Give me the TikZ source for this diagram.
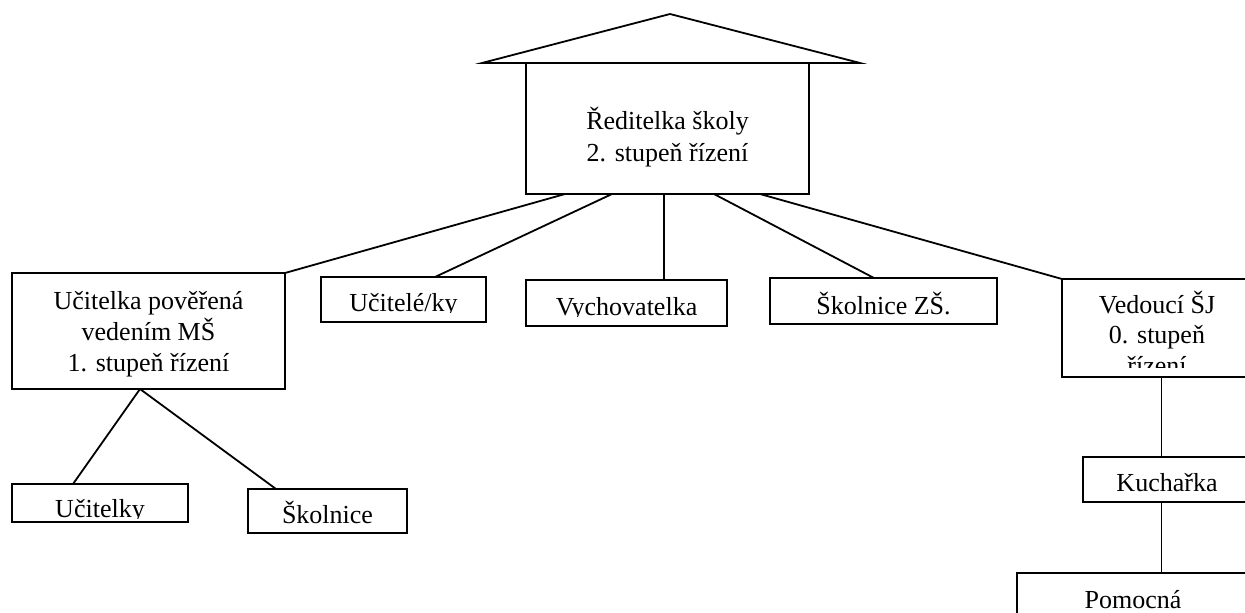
\documentclass[tikz,border=0pt]{standalone}
\usepackage{fontspec}
\setmainfont{Liberation Serif}
\usetikzlibrary{calc}
\tikzset{
  box/.style={draw=black, line width=1.8pt, inner sep=0pt, outer sep=0pt, fill=white},
  txt/.style={anchor=base, inner sep=0pt, outer sep=0pt, font=\fontsize{26}{31}\selectfont},
  link/.style={draw=black, line width=1.8pt}
}
\begin{document}
\begin{tikzpicture}[x=1pt, y=-1pt]
\useasboundingbox (0,0) rectangle (1245,613);
% roof
\draw[line width=1.8pt, line join=miter] (482,63) -- (670,14) -- (860,63) -- cycle;
% boxes
\node[box, minimum width=283pt, minimum height=131pt] (main) at (667.5,128.5) {};
\node[box, minimum width=273pt, minimum height=116pt] (mgr) at (148.5,331) {};
\node[box, minimum width=165pt, minimum height=45pt] (ucz) at (403.5,299.5) {};
\node[box, minimum width=201pt, minimum height=46pt] (vych) at (626.5,303) {};
\node[box, minimum width=227pt, minimum height=46pt] (skzs) at (883.5,301) {};
\node[box, minimum width=190pt, minimum height=98pt] (ved) at (1157,328) {};
\node[box, minimum width=176pt, minimum height=38pt] (ucky) at (100,503) {};
\node[box, minimum width=159pt, minimum height=44pt] (skol) at (327.5,511) {};
\node[box, minimum width=168pt, minimum height=45pt] (kuch) at (1167,479.5) {};
\node[box, minimum width=232pt, minimum height=60pt] (pom) at (1133,603) {};
% texts
\node[txt] (maint1) at (667.5,129) {Ředitelka školy};
\node[txt] (maint2) at (667.5,161) {2. stupeň řízení};
\node[txt] (mgrt1) at (148.5,309) {Učitelka pověřená};
\node[txt] (mgrt2) at (148.5,340) {vedením MŠ};
\node[txt] (mgrt3) at (148.5,371) {1. stupeň řízení};
\begin{scope}
  \clip (321,277) rectangle (486,312);
  \node[txt] (uczt) at (403.5,311) {Učitelé/ky};
\end{scope}
\begin{scope}
  \clip (526,280) rectangle (727,316);
  \node[txt] (vycht) at (626.5,315) {Vychovatelka};
\end{scope}
\node[txt] (skzst) at (883.5,314) {Školnice ZŠ.};
\begin{scope}
  \clip (1062,279) rectangle (1245,367);
  \node[txt] (vedt1) at (1157,313) {Vedoucí ŠJ};
  \node[txt] (vedt2) at (1157,343) {0. stupeň};
  \node[txt] (vedt3) at (1157,374) {řízení};
\end{scope}
\begin{scope}
  \clip (12,484) rectangle (188,518);
  \node[txt] (uckyt) at (100,517) {Učitelky};
\end{scope}
\node[txt] (skolt) at (327.5,523) {Školnice};
\node[txt] (kucht) at (1167,491) {Kuchařka};
\node[txt] (pomt) at (1133,608) {Pomocná};
% connectors
\draw[link] ([xshift=-102.5pt]main.south) -- (mgr.north east);
\draw[link] ([xshift=-55.5pt]main.south) -- ([xshift=31.5pt]ucz.north);
\draw[link] ([xshift=-3.5pt]main.south) -- ([xshift=37.5pt]vych.north);
\draw[link] ([xshift=46.5pt]main.south) -- ([xshift=-9.5pt]skzs.north);
\draw[link] ([xshift=92.5pt]main.south) -- (ved.north west);
\draw[link] ([xshift=-8.5pt]mgr.south) -- ([xshift=-27pt]ucky.north);
\draw[link] ([xshift=-8.5pt]mgr.south) -- ([xshift=-51.5pt]skol.north);
\draw[link] ([xshift=4.5pt]ved.south) -- ([xshift=-5.5pt]kuch.north);
\draw[link] ([xshift=-5.5pt]kuch.south) -- ([xshift=28.5pt]pom.north);
\end{tikzpicture}
\end{document}
